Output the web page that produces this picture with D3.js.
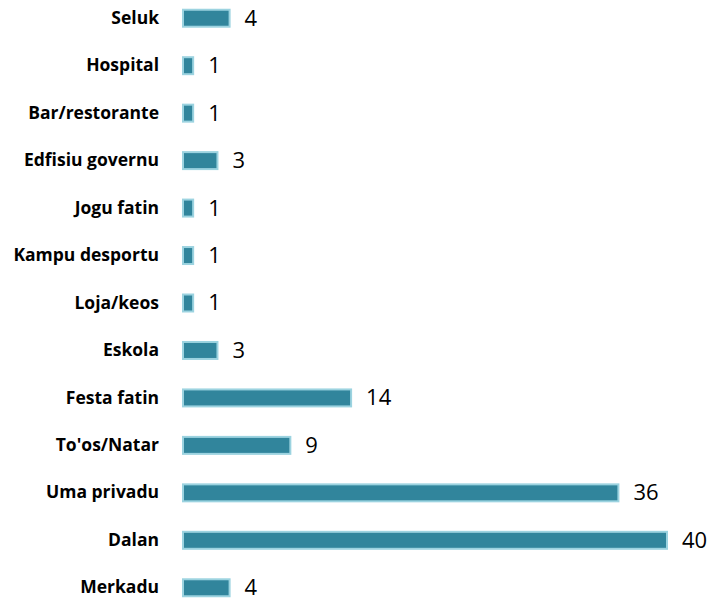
<!DOCTYPE html>
<html>
<head>
<meta charset="utf-8">
<script src="https://cdn.jsdelivr.net/npm/d3@7"></script>
<style>
  body { margin: 0; background: #fff; }
</style>
</head>
<body>
<div id="chart"></div>
<script>
// Categories from top to bottom, with their counts
const categories = ["Seluk", "Hospital", "Bar/restorante", "Edfisiu governu", "Jogu fatin",
    "Kampu desportu", "Loja/keos", "Eskola", "Festa fatin", "To'os/Natar",
    "Uma privadu", "Dalan", "Merkadu"];
const values = [4, 1, 1, 3, 1, 1, 1, 3, 14, 9, 36, 40, 4];

const width = 713, height = 602;
const margin = { top: 0, right: 45, bottom: 0, left: 182 };

const svg = d3.select("#chart").append("svg")
    .attr("width", width)
    .attr("height", height);

// Horizontal scale: 40 units span ~486px
const x = d3.scaleLinear()
    .domain([0, 40])
    .range([margin.left, 668]);

// Row bands, centre of first row ~18.5, last ~588
const y = d3.scaleBand()
    .domain(categories)
    .range([-5.5, 611.5])
    .paddingInner(0.6)
    .paddingOuter(0.3);

const g = svg.append("g");

// Bars
g.selectAll(".bar")
    .data(categories)
    .enter().append("rect")
    .attr("class", "bar")
    .attr("x", x(0) + 1)
    .attr("y", d => y(d) + 1)
    .attr("width", (d, i) => x(values[i]) - x(0) - 2)
    .attr("height", y.bandwidth() - 2)
    .attr("fill", "#31859c")
    .attr("stroke", "#9cd3e0")
    .attr("stroke-width", 2);

// Category labels
const yAxis = d3.axisLeft(y).tickSize(0).tickPadding(0);
svg.append("g")
    .attr("transform", "translate(159,0)")
    .call(yAxis)
    .call(s => s.select(".domain").remove())
    .selectAll("text")
    .attr("font-family", "'Open Sans', 'Noto Sans', sans-serif")
    .attr("font-weight", "bold")
    .attr("font-size", 17.5)
    .attr("fill", "#000");

// Value labels
g.selectAll(".val")
    .data(categories)
    .enter().append("text")
    .attr("class", "val")
    .attr("x", (d, i) => x(values[i]) + 14)
    .attr("y", d => y(d) + y.bandwidth() / 2)
    .attr("dy", "0.34em")
    .attr("font-family", "'Open Sans', 'Noto Sans', sans-serif")
    .attr("font-size", 22)
    .attr("fill", "#000")
    .text((d, i) => values[i]);
</script>
</body>
</html>
